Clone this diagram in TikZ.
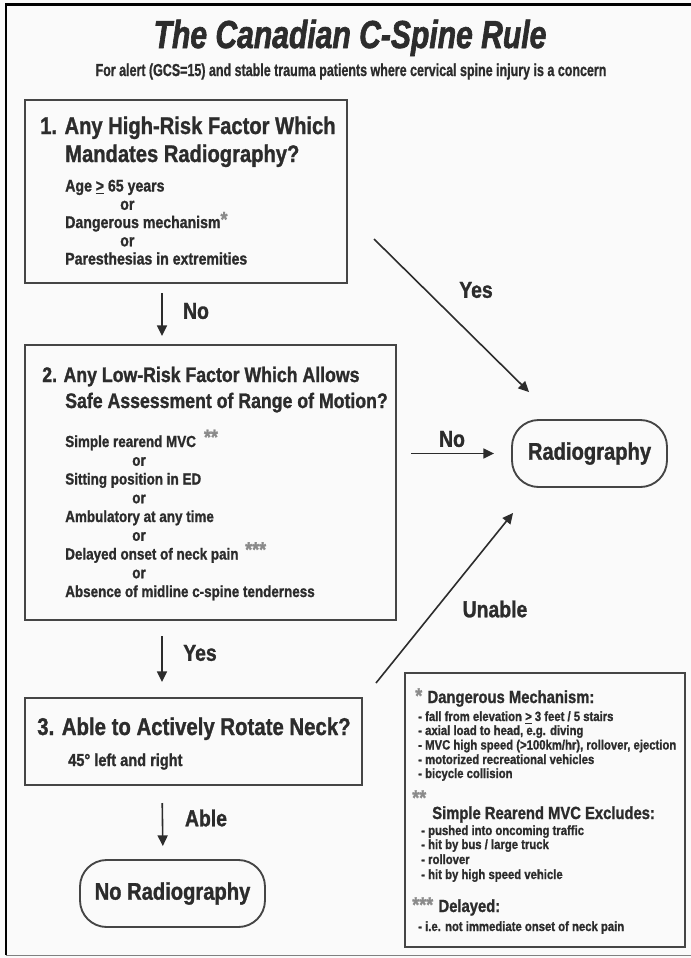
\documentclass[tikz,border=0pt]{standalone}
\usepackage{fontspec}
\setmainfont{Liberation Sans}[FakeStretch=0.84, BoldFeatures={FakeBold=1.2}]
\newfontfamily\titlefont{Liberation Sans}[FakeStretch=0.77, BoldItalicFeatures={FakeBold=1.6}]
\newfontfamily\subfont{Liberation Sans}[FakeStretch=0.72, BoldFeatures={FakeBold=0.9}]
\usetikzlibrary{arrows.meta}
\definecolor{ink}{HTML}{2C2C2C}
\definecolor{linegray}{HTML}{454545}
\definecolor{stargray}{HTML}{8A8A8A}
\definecolor{paper}{HTML}{FAFAFA}
\newcommand{\px}{0.75pt}
\newcommand{\starmark}[1]{{\color{stargray}\fontsize{16}{16}\selectfont #1}}
\begin{document}
\begin{tikzpicture}[x=0.75pt, y=-0.75pt,
  every node/.style={text=ink, inner sep=0pt},
  box/.style={draw=linegray, line width=1.5pt},
  endbox/.style={draw=linegray, line width=1.4pt, rounded corners=20pt, font=\bfseries\fontsize{18}{18}\selectfont},
  head/.style={anchor=base west, font=\bfseries\fontsize{#1}{#1}\selectfont},
  item/.style={anchor=base west, font=\bfseries\fontsize{#1}{#1}\selectfont},
  lbl/.style={font=\bfseries\fontsize{17.3}{17.3}\selectfont},
  arr/.style={draw=ink, line width=1.2pt, -{Triangle[length=8pt,width=7.5pt]}}]
\useasboundingbox (0,0) rectangle (691,958);
\fill[paper] (0,0) rectangle (691,958);
\draw[black, line width=2.2pt] (6,955) -- (6,4.5) -- (691,4.5);
\draw[gray, line width=0.8pt] (6,955.5) -- (691,955.5);

% title
\node[anchor=base, font=\titlefont\bfseries\itshape\fontsize{29.3}{30}\selectfont] (title) at (350,48) {The Canadian C-Spine Rule};
\node[anchor=base, font=\subfont\bfseries\fontsize{13}{13}\selectfont] (subtitle) at (351,76) {For alert (GCS=15) and stable trauma patients where cervical spine injury is a concern};

% boxes
\node[box, minimum width=322*\px, minimum height=183*\px] (high) at (186,191.5) {};
\node[box, minimum width=371*\px, minimum height=275*\px] (low) at (210.5,482.5) {};
\node[box, minimum width=337*\px, minimum height=87*\px] (able) at (193.5,741.5) {};
\node[endbox, minimum width=155*\px, minimum height=67*\px] (rad) at (589.5,453.5) {Radiography};
\node[endbox, minimum width=185*\px, minimum height=67*\px] (norad) at (172.5,893.5) {No Radiography};
\node[box, minimum width=280*\px, minimum height=274*\px] (notes) at (545,810) {};

% box 1
\node[head=18] (high1) at (40,134) {1. Any High-Risk Factor Which};
\node[head=18] (high2) at (65,162) {Mandates Radiography?};
\node[item=12.6] (age) at (65,191.5) {Age \underline{>} 65 years};
\node[item=12.6] (or1) at (120,209.8) {or};
\node[item=12.6] (danger) at (65,228) {Dangerous mechanism\raisebox{1pt}{\starmark{*}}};
\node[item=12.6] (or2) at (120,246.3) {or};
\node[item=12.6] (pares) at (65,264.5) {Paresthesias in extremities};

% box 2
\node[head=15.8] (low1) at (42,382) {2. Any Low-Risk Factor Which Allows};
\node[head=15.8] (low2) at (65,408) {Safe Assessment of Range of Motion?};
\node[item=12] (rearend) at (65,447) {Simple rearend MVC\hspace{6pt}\raisebox{2pt}{\starmark{**}}};
\node[item=12] (or3) at (132,465.75) {or};
\node[item=12] (sitting) at (65,484.5) {Sitting position in ED};
\node[item=12] (or4) at (132,503.25) {or};
\node[item=12] (ambul) at (65,522) {Ambulatory at any time};
\node[item=12] (or5) at (132,540.75) {or};
\node[item=12] (delay) at (65,559.5) {Delayed onset of neck pain\hspace{5pt}\raisebox{2pt}{\starmark{***}}};
\node[item=12] (or6) at (132,578.25) {or};
\node[item=12] (tender) at (65,597) {Absence of midline c-spine tenderness};

% box 3
\node[head=18.2] (able1) at (37,735) {3. Able to Actively Rotate Neck?};
\node[item=13] (degree) at (68,766) {45° left and right};

% notes
\node[item=13.2] (dang) at (415,703) {\starmark{*}\hspace{4pt}Dangerous Mechanism:};
\node[item=10.1] (d1) at (418,721) {- fall from elevation \underline{>} 3 feet / 5 stairs};
\node[item=10.1] (d2) at (418,735) {- axial load to head, e.g. diving};
\node[item=10.1] (d3) at (418,749.5) {- MVC high speed (>100km/hr), rollover, ejection};
\node[item=10.1] (d4) at (418,764) {- motorized recreational vehicles};
\node[item=10.1] (d5) at (418,778) {- bicycle collision};
\node[item=13.2] (twostar) at (412,805) {\starmark{**}};
\node[item=13.2] (simple) at (432,819) {Simple Rearend MVC Excludes:};
\node[item=10.1] (s1) at (421,835) {- pushed into oncoming traffic};
\node[item=10.1] (s2) at (421,849) {- hit by bus / large truck};
\node[item=10.1] (s3) at (421,864) {- rollover};
\node[item=10.1] (s4) at (421,879) {- hit by high speed vehicle};
\node[item=13.2] (delayed) at (412,912) {\starmark{***}\hspace{4pt}Delayed:};
\node[item=10.1] (ie) at (418,931) {- i.e. not immediate onset of neck pain};

% connectors
\draw[arr, shorten <=6.75pt, shorten >=6pt] ([shift={(138,0)}]high.south west) -- ([shift={(138,0)}]low.north west);
\draw[arr, shorten <=11.25pt, shorten >=11.25pt] ([shift={(138,0)}]low.south west) -- ([shift={(138,0)}]able.north west);
\draw[arr, shorten <=12.75pt, shorten >=9.75pt] ([shift={(138,0)}]able.south west) -- ([shift={(-9.5,0)}]norad.north);
\draw[arr, shorten <=10.5pt, shorten >=12.75pt] (low.east |- rad.west) -- (rad.west);
\draw[arr] ([shift={(26,-45)}]high.south east) -- ([shift={(18,-27)}]rad.north west);
\draw[arr] ([shift={(13,-14)}]able.north east) -- ([shift={(2,25)}]rad.south west);

% labels
\node[lbl] (nolbl) at (196,311) {No};
\node[lbl] (yeslbl) at (200,653) {Yes};
\node[lbl] (ablelbl) at (206,818) {Able};
\node[lbl] (nolbl2) at (452,439) {No};
\node[lbl] (yeslbl2) at (476,290) {Yes};
\node[lbl] (unablelbl) at (495,609) {Unable};
\end{tikzpicture}
\end{document}
